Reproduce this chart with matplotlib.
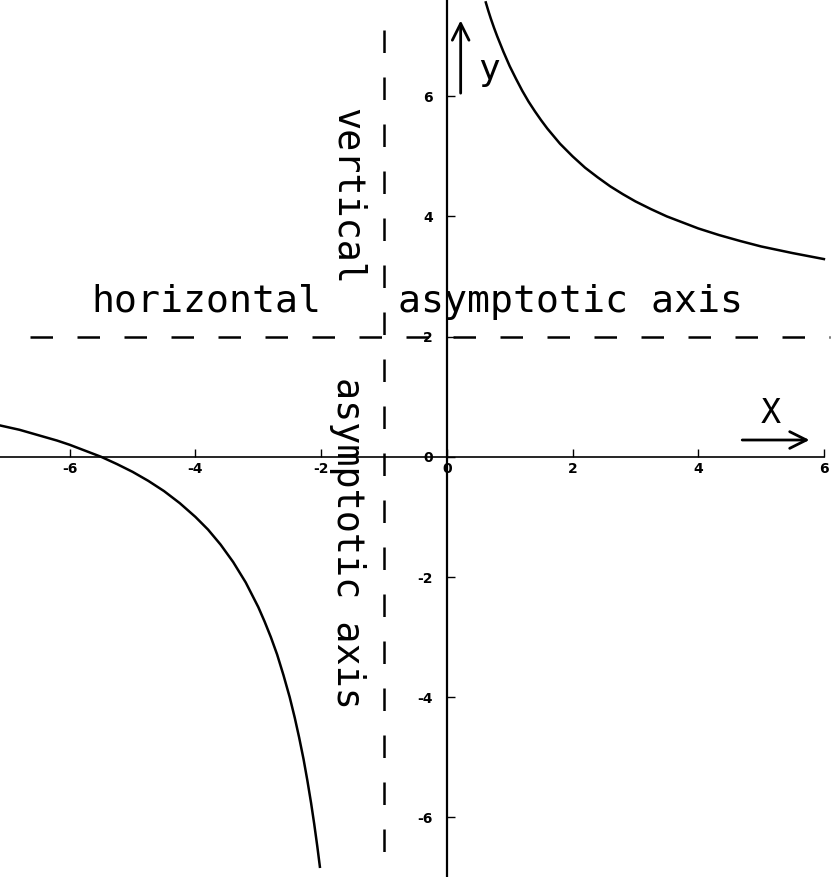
import matplotlib
matplotlib.use("Agg")
import matplotlib.pyplot as plt

# ---- data ----
# right branch of the hyperbola (x > -1)
right_x = [0.62, 0.66, 0.7, 0.75, 0.8, 0.85, 0.9, 0.95, 1.0, 1.1, 1.2, 1.3, 1.4, 1.5, 1.6,
           1.8, 2.0, 2.2, 2.4, 2.6, 2.8, 3.0, 3.25, 3.5, 3.75, 4.0, 4.33, 4.67, 5.0, 5.5, 6.0]
right_y = [7.56, 7.42, 7.29, 7.14, 7.00, 6.87, 6.74, 6.62, 6.50, 6.29, 6.09, 5.91, 5.75, 5.60, 5.46,
           5.21, 5.00, 4.81, 4.65, 4.50, 4.37, 4.25, 4.12, 4.00, 3.90, 3.80, 3.69, 3.59, 3.50, 3.39, 3.29]
# left branch of the hyperbola (x < -1)
left_x = [-7.1, -6.8, -6.5, -6.2, -6.0, -5.75, -5.5, -5.25, -5.0, -4.75, -4.5, -4.25, -4.0,
          -3.8, -3.6, -3.4, -3.2, -3.0, -2.9, -2.8, -2.7, -2.6, -2.5, -2.42, -2.35, -2.28,
          -2.22, -2.16, -2.11, -2.06, -2.02]
left_y = [0.52, 0.45, 0.36, 0.27, 0.20, 0.10, 0.00, -0.12, -0.25, -0.40, -0.57, -0.77, -1.00,
          -1.21, -1.46, -1.75, -2.09, -2.50, -2.74, -3.00, -3.29, -3.63, -4.00, -4.34, -4.67,
          -5.03, -5.38, -5.76, -6.11, -6.49, -6.82]

# asymptotes
v_asym = -1.0
h_asym = 2.0

x_ticks = [-6, -4, -2, 0, 2, 4, 6]
x_tick_labels = ["-6", "-4", "-2", "0", "2", "4", "6"]
y_ticks = [-6, -4, -2, 0, 2, 4, 6]
y_tick_labels = ["-6", "-4", "-2", "0", "2", "4", "6"]

# ---- figure ----
fig = plt.figure(figsize=(8.39, 8.77), dpi=100)
ax = fig.add_axes([0, 0, 1, 1])
ax.set_xlim(-7.11, 6.24)
ax.set_ylim(-6.99, 7.60)

# axes through the origin
for s in ("top", "right"):
    ax.spines[s].set_visible(False)
ax.spines["left"].set_position(("data", 0))
ax.spines["bottom"].set_position(("data", 0))
ax.spines["left"].set_linewidth(1.6)
ax.spines["bottom"].set_linewidth(1.2)
ax.spines["bottom"].set_bounds(-7.11, 6.0)

ax.set_xticks(x_ticks)
ax.set_xticklabels(x_tick_labels)
ax.set_yticks(y_ticks)
ax.set_yticklabels(y_tick_labels)
ax.tick_params(axis="x", direction="in", length=6, width=1.0, pad=4,
               labelsize=10)
ax.tick_params(axis="y", direction="in", length=6, width=1.0, pad=10,
               labelsize=10)
for lab in ax.get_xticklabels() + ax.get_yticklabels():
    lab.set_fontweight("bold")

# curves
ax.plot(right_x, right_y, color="black", lw=1.8, solid_joinstyle="round")
ax.plot(left_x, left_y, color="black", lw=1.8, solid_joinstyle="round")

# dashed asymptotes
ax.plot([-6.64, 6.1], [h_asym, h_asym], color="black", lw=1.8,
        dashes=(9, 9.8))
ax.plot([v_asym, v_asym], [7.1, -6.7], color="black", lw=1.8,
        dashes=(9, 9.8))

# texts
mono = "DejaVu Sans Mono"
ax.text(-5.65, 2.41, "horizontal", family=mono, fontsize=27.5,
        ha="left", va="baseline")
ax.text(-0.78, 2.41, "asymptotic axis", family=mono, fontsize=27.5,
        ha="left", va="baseline")
ax.text(-1.75, 5.80, "vertical", family=mono, fontsize=26.5, rotation=-90,
        rotation_mode="anchor", ha="left", va="baseline")
ax.text(-1.75, 1.33, "asymptotic axis", family=mono, fontsize=26.5,
        rotation=-90, rotation_mode="anchor", ha="left", va="baseline")

# axis name arrows
ax.annotate("", xy=(0.22, 7.26), xytext=(0.22, 6.05),
            arrowprops=dict(arrowstyle="->", lw=2.0, color="black",
                            mutation_scale=30, shrinkA=0, shrinkB=0))
ax.text(0.50, 6.27, "y", family=mono, fontsize=26, ha="left", va="baseline")
ax.annotate("", xy=(5.77, 0.28), xytext=(4.70, 0.28),
            arrowprops=dict(arrowstyle="->", lw=2.0, color="black",
                            mutation_scale=30, shrinkA=0, shrinkB=0))
ax.text(5.16, 0.57, "X", family=mono, fontsize=24, ha="center",
        va="baseline")

fig.savefig("out.png", dpi=100)
